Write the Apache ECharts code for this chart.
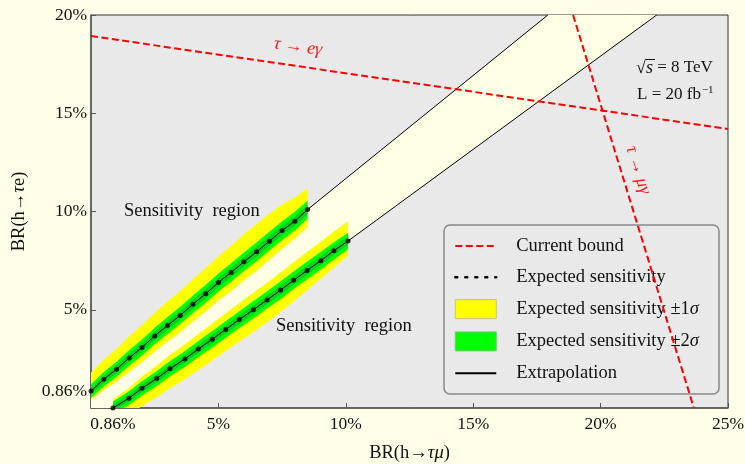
<!DOCTYPE html>
<html>
<head>
<meta charset="utf-8">
<script src="https://cdn.jsdelivr.net/npm/echarts@6/dist/echarts.min.js"></script>
<style>
  html, body { margin: 0; padding: 0; background: #fffee8; }
  #chartBox { width: 745px; height: 464px; }
</style>
</head>
<body>
<div id="chartBox"></div>
<script>
// tick labels (percent)
const xTicks = [0.86, 5, 10, 15, 20, 25];
const yTicks = [0.86, 5, 10, 15, 20];

// expected sensitivity, h -> tau e (upper curve)
const upX = [0, 0.5, 1, 1.5, 2, 2.5, 3, 3.5, 4, 4.5, 5, 5.5, 6, 6.5, 7, 7.5, 8, 8.5];
const upY = [0.86, 1.46, 1.97, 2.55, 3.08, 3.67, 4.20, 4.71, 5.28, 5.81, 6.39, 6.90, 7.44, 7.95, 8.49, 9.03, 9.51, 10.10];
const upYelAbove = [0.95, 1.00, 1.05, 1.10, 1.15, 1.18, 1.22, 1.25, 1.28, 1.30, 1.33, 1.36, 1.40, 1.42, 1.40, 1.32, 1.20, 1.08];
const upYelBelow = [0.45, 0.55, 0.63, 0.70, 0.75, 0.80, 0.83, 0.86, 0.88, 0.90, 0.92, 0.94, 0.95, 0.96, 0.95, 0.93, 0.90, 0.88];
const upGreenHalf = [0.35, 0.37, 0.38, 0.40, 0.41, 0.42, 0.43, 0.44, 0.45, 0.46, 0.46, 0.47, 0.47, 0.48, 0.48, 0.48, 0.48, 0.45];

// expected sensitivity, h -> tau mu (lower curve)
const loX = [0.86, 1.49, 2.00, 2.58, 3.10, 3.69, 4.21, 4.76, 5.29, 5.82, 6.37, 6.91, 7.44, 7.95, 8.48, 9.02, 9.53, 10.09];
const loY = [0, 0.5, 1, 1.5, 2, 2.5, 3, 3.5, 4, 4.5, 5, 5.5, 6, 6.5, 7, 7.5, 8, 8.5];
const loYelAbove = [0.45, 0.52, 0.60, 0.66, 0.70, 0.74, 0.77, 0.80, 0.82, 0.84, 0.86, 0.88, 0.90, 0.92, 0.94, 0.96, 0.98, 1.00];
const loYelBelow = [0.80, 0.85, 0.90, 0.95, 1.00, 1.03, 1.06, 1.08, 1.10, 1.12, 1.13, 1.14, 1.12, 1.08, 1.00, 0.92, 0.85, 0.75];
const loGreenHalf = [0.33, 0.35, 0.36, 0.38, 0.39, 0.40, 0.41, 0.42, 0.43, 0.43, 0.44, 0.44, 0.45, 0.45, 0.45, 0.45, 0.44, 0.42];

// extrapolations beyond the last computed point
const upExtrap = [[8.5, 10.10], [17.93, 20]];
const loExtrap = [[10.09, 8.5], [22.2, 20]];

// current bounds
const boundEGamma = [[0, 18.93], [25, 14.2]];
const boundMuGamma = [[18.92, 20], [23.66, 0]];

const FONT = "'Liberation Serif', 'DejaVu Serif', serif";

function pts(xs, ys) {
  return xs.map((x, i) => [x, ys[i]]);
}
function band(xs, ys, above, below, k) {
  const hi = xs.map((x, i) => [x, ys[i] + above[i] * k]);
  const lo = xs.map((x, i) => [x, ys[i] - below[i] * k]).reverse();
  return hi.concat(lo);
}
function polySeries(name, poly, color, z) {
  return {
    name: name,
    type: 'custom',
    clip: true,
    z: z,
    silent: true,
    itemStyle: { color: color },
    data: [0],
    renderItem: function (params, api) {
      return {
        type: 'polygon',
        shape: { points: poly.map(p => api.coord(p)) },
        style: { fill: color }
      };
    }
  };
}

const upPts = pts(upX, upY);
const loPts = pts(loX, loY);
const region = [[0, 0]].concat(upPts, [upExtrap[1], loExtrap[1]], loPts.slice().reverse());

const chart = echarts.init(document.getElementById('chartBox'));

const richText = {
  a: { fontFamily: FONT, fontSize: 18.5, color: '#111' },
  i: { fontFamily: FONT, fontSize: 18.5, fontStyle: 'italic', color: '#111' }
};

const noSymbol = { opacity: 0 };

const option = {
  backgroundColor: '#fffee8',
  animation: false,
  grid: {
    left: 91, right: 17, top: 15, bottom: 56,
    show: true,
    backgroundColor: '#e9e9e9',
    borderColor: '#333',
    borderWidth: 1,
    outerBoundsMode: 'none'
  },
  xAxis: {
    type: 'value',
    min: 0, max: 25,
    name: '{a|BR(h→}{i|τμ}{a|)}',
    nameLocation: 'middle',
    nameGap: 36,
    nameTextStyle: { rich: richText },
    axisLine: { lineStyle: { color: '#555', width: 1.5 } },
    axisTick: { inside: true, length: 5, customValues: xTicks, lineStyle: { color: '#555' } },
    axisLabel: {
      customValues: xTicks,
      formatter: v => v + '%',
      fontFamily: FONT, fontSize: 17.5, color: '#111', margin: 7
    },
    splitLine: { show: false }
  },
  yAxis: {
    type: 'value',
    min: 0, max: 20,
    name: '{a|BR(h→}{i|τ}{a|e)}',
    nameLocation: 'middle',
    nameRotate: 90,
    nameGap: 62,
    nameTextStyle: { rich: richText },
    axisLine: { lineStyle: { color: '#555', width: 1.5 } },
    axisTick: { inside: true, length: 5, customValues: yTicks, lineStyle: { color: '#555' } },
    axisLabel: {
      customValues: yTicks,
      formatter: v => v + '%',
      fontFamily: FONT, fontSize: 17.5, color: '#111', margin: 4
    },
    splitLine: { show: false }
  },
  legend: {
    orient: 'vertical',
    left: 449, top: 231.5,
    itemWidth: 41, itemHeight: 19,
    itemGap: 12.3,
    selectedMode: false,
    textStyle: { fontFamily: FONT, fontSize: 18.5, color: '#111', padding: [0, 0, 0, 15], rich: richText },
    formatter: function (name) {
      if (name.indexOf('±') >= 0) {
        return '{a|' + name.slice(0, -1) + '}{i|σ}';
      }
      return '{a|' + name + '}';
    },
    data: [
      { name: 'Current bound', itemStyle: noSymbol },
      { name: 'Expected sensitivity', itemStyle: noSymbol, lineStyle: { type: [2, 8], width: 2.5, color: '#000', cap: 'round' } },
      { name: 'Expected sensitivity ±1σ', icon: 'rect', itemStyle: { color: '#ffff00', borderColor: '#c9c27a', borderWidth: 1 } },
      { name: 'Expected sensitivity ±2σ', icon: 'rect', itemStyle: { color: '#00ff00', borderColor: '#7cc47c', borderWidth: 1 } },
      { name: 'Extrapolation', itemStyle: noSymbol }
    ]
  },
  graphic: [
    { type: 'rect', shape: { x: 444, y: 225, width: 275, height: 169, r: 6 }, style: { fill: null, stroke: '#888', lineWidth: 1.5 }, z: 100 },
    { type: 'text', left: 124, top: 202, style: { text: 'Sensitivity  region', font: '18.5px ' + FONT, fill: '#111' }, z: 100 },
    { type: 'text', left: 276, top: 317, style: { text: 'Sensitivity  region', font: '18.5px ' + FONT, fill: '#111' }, z: 100 },
    {
      type: 'text', left: 636, top: 59, z: 100,
      style: {
        text: '{r|√}{s|s}{t| = 8 TeV}',
        rich: {
          r: { font: '18px ' + FONT, fill: '#111' },
          s: { font: 'italic 18px ' + FONT, fill: '#111' },
          t: { font: '17px ' + FONT, fill: '#111' }
        }
      }
    },
    { type: 'line', shape: { x1: 646, y1: 59.5, x2: 655, y2: 59.5 }, style: { stroke: '#111', lineWidth: 1 }, z: 100 },
    {
      type: 'text', left: 637, top: 85, z: 100,
      style: {
        text: '{t|L = 20 fb}{u|−1}',
        rich: {
          t: { font: '17px ' + FONT, fill: '#111' },
          u: { font: '11px ' + FONT, fill: '#111', verticalAlign: 'top', padding: [0, 0, 9, 1] }
        }
      }
    },
    {
      type: 'text', x: 298, y: 47, rotation: -0.14, z: 100,
      style: {
        text: '{i|τ}{a| → }{i|eγ}',
        align: 'center', verticalAlign: 'middle',
        rich: {
          i: { font: 'italic 18px ' + FONT, fill: '#ff1a1a' },
          a: { font: '18px ' + FONT, fill: '#ff1a1a' }
        }
      }
    },
    {
      type: 'text', x: 638, y: 170, rotation: -1.27, z: 100,
      style: {
        text: '{i|τ}{a| → }{i|μγ}',
        align: 'center', verticalAlign: 'middle',
        rich: {
          i: { font: 'italic 18px ' + FONT, fill: '#ff1a1a' },
          a: { font: '18px ' + FONT, fill: '#ff1a1a' }
        }
      }
    }
  ],
  series: [
    polySeries('region', region, '#ffffe6', 1),
    polySeries('Expected sensitivity ±1σ', band(upX, upY, upYelAbove, upYelBelow, 1), '#ffff00', 2),
    polySeries('Expected sensitivity ±1σ', band(loX, loY, loYelAbove, loYelBelow, 1), '#ffff00', 2),
    polySeries('Expected sensitivity ±2σ', band(upX, upY, upGreenHalf, upGreenHalf, 1), '#00ff00', 3),
    polySeries('Expected sensitivity ±2σ', band(loX, loY, loGreenHalf, loGreenHalf, 1), '#00ff00', 3),
    polySeries('inner', band(upX, upY, upGreenHalf, upGreenHalf, 0.5), '#00d21e', 4),
    polySeries('inner', band(loX, loY, loGreenHalf, loGreenHalf, 0.5), '#00d21e', 4),
    {
      name: 'Extrapolation', type: 'line', data: upExtrap, symbol: 'none', z: 5,
      lineStyle: { color: '#000', width: 1 }
    },
    {
      name: 'Extrapolation', type: 'line', data: loExtrap, symbol: 'none', z: 5,
      lineStyle: { color: '#000', width: 1 }
    },
    {
      name: 'Expected sensitivity', type: 'line', data: upPts, symbol: 'none', z: 6,
      lineStyle: { color: '#000', width: 1 }
    },
    {
      name: 'Expected sensitivity', type: 'line', data: loPts, symbol: 'none', z: 6,
      lineStyle: { color: '#000', width: 1 }
    },
    {
      name: 'dots', type: 'scatter', data: upPts.concat(loPts), symbolSize: 5, z: 7,
      itemStyle: { color: '#000' }, clip: true
    },
    {
      name: 'Current bound', type: 'line', data: boundEGamma, symbol: 'none', z: 8,
      lineStyle: { color: '#ff0000', width: 2, type: [7, 3.5] }
    },
    {
      name: 'Current bound', type: 'line', data: boundMuGamma, symbol: 'none', z: 8,
      lineStyle: { color: '#ff0000', width: 2, type: [7, 3.5] }
    }
  ]
};

chart.setOption(option);
</script>
</body>
</html>
